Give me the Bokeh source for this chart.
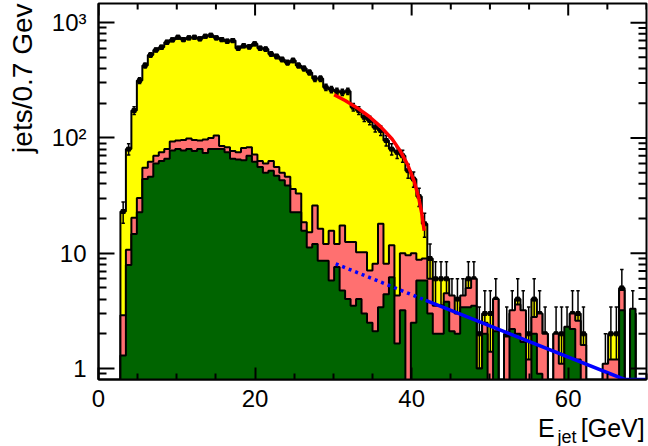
import numpy as np
from bokeh.plotting import figure
from bokeh.models import Range1d, FixedTicker, CustomJSTickFormatter
from bokeh.core.properties import value
from bokeh.layouts import row, column
from bokeh.embed import file_html
from bokeh.resources import INLINE

BIN_WIDTH = 0.7  # GeV per bin, 100 bins from 0 to 70 GeV

# all jets (data, drawn yellow with statistical error bars)
jets_all = [
    0, 0, 0, 0, 23, 80, 173, 315, 425, 525,
    580, 612, 676, 710, 747, 713, 738, 747, 725, 762,
    777, 738, 713, 690, 700, 600, 630, 617, 655, 600,
    590, 535, 510, 480, 450, 470, 425, 400, 370, 327,
    327, 275, 263, 254, 249, 254, 185, 173, 151, 142,
    124, 116, 95, 80, 75, 70, 52, 44, 31, 18,
    9, 6, 6, 6, 4, 4, 4, 6, 6, 2,
    3, 3, 4, 0, 2, 3, 4, 3, 2, 4,
    3, 2, 0, 2, 2, 2, 3, 3, 2, 0,
    0, 0, 1, 2, 2, 5, 0, 3, 0, 0,
]

# second jet sample (salmon)
jets_pink = [
    0, 0, 0, 0, 2.9, 10.7, 20.3, 30.2, 55, 62,
    70, 75, 80, 93, 95, 96, 99, 96, 95, 97,
    100, 105, 85, 83, 77, 75, 82, 83, 72, 63,
    60, 63, 56, 50, 46, 36, 33, 18.6, 15.2, 26,
    16.3, 12, 15.7, 12, 17.4, 12.5, 12.5, 10.2, 10.2, 7.1,
    8.1, 18, 8.1, 11.7, 4.3, 10, 9.6, 10, 8.8, 9,
    6, 3.5, 3.5, 4.5, 4.3, 3, 4.3, 5, 6, 1,
    2.5, 1.4, 4, 0, 1.9, 3.2, 3.6, 3.2, 1.2, 2.8,
    3, 2, 0, 2, 1.1, 2, 3, 2.6, 1.6, 0,
    0, 0, 1.1, 1.2, 1.2, 4.8, 0, 3, 0, 0,
]

# third jet sample (dark green)
jets_green = [
    0, 0, 0, 0, 1.3, 7.9, 14.7, 22.7, 44, 46,
    60, 63, 66, 78, 80, 78, 80, 77, 80, 74,
    80, 80, 80, 75, 66, 65, 64, 70, 62, 56,
    50, 52, 47, 43, 38.6, 22.7, 22.7, 15.7, 11.2, 12,
    8.6, 8.6, 5.8, 7.6, 4.75, 4, 3.5, 4, 3, 2.5,
    2.1, 3.4, 4.4, 6.2, 1.65, 3.2, 0, 2.5, 5.8, 5.8,
    3, 2, 2, 3.8, 2.1, 2, 3.4, 3.4, 3.5, 1,
    2, 0, 2.1, 0, 0, 2.2, 2, 1.7, 0, 2,
    0.9, 0, 0, 0, 0, 2.3, 2.2, 1.2, 0, 0,
    0, 0, 0, 0, 0, 3.2, 0, 3.3, 0, 0,
]

# fitted spectrum edge (red) sampled along the curve
fit_e = [30.1, 31.5, 33.0, 34.5, 36.0, 37.5, 38.5, 39.5, 40.3, 40.9, 41.3, 41.6]
fit_n = [237, 211, 183, 155, 126, 98, 78, 58.5, 42.5, 30.3, 22, 15.7]

# exponential background (blue): dotted part, then solid part
bkg_dot_e = [30.3, 41.8]
bkg_dot_n = [8.1, 3.9]
bkg_e = [41.8, 67.2, 70.0]
bkg_n = [3.9, 0.803, 0.803]

x_major = [0, 20, 40, 60]
x_minor = [5, 10, 15, 25, 30, 35, 45, 50, 55, 65, 70]
y_major = [1, 10, 100, 1000]
y_minor = [0.9] + [m * d for d in (1, 10, 100) for m in range(2, 10)]

X_LO, X_HI = 0.0, 70.0
Y_LO, Y_HI = 0.803, 1466
FLOOR = 0.5          # below the frame, used for empty bins
FONT = "Liberation Sans"

# page: a strip for the y title, then the plot above a strip for the x title
STRIP_W = 45
MAIN_W, MAIN_H = 603, 413
XLAB_H = 33
B_LEFT, B_RIGHT, B_TOP, B_BOTTOM = 53, 2, 3, 34
FRAME_W = MAIN_W - B_LEFT - B_RIGHT
FRAME_H = MAIN_H - B_TOP - B_BOTTOM

n_bins = len(jets_all)
lo = np.arange(n_bins) * BIN_WIDTH
hi = lo + BIN_WIDTH
mid = lo + BIN_WIDTH / 2
step_x = np.append(lo, hi[-1])

p = figure(width=MAIN_W, height=MAIN_H, x_range=Range1d(X_LO, X_HI),
           y_range=Range1d(Y_LO, Y_HI), y_axis_type="log",
           output_backend="svg", toolbar_location=None,
           min_border_left=B_LEFT, min_border_right=B_RIGHT,
           min_border_top=B_TOP, min_border_bottom=B_BOTTOM)
p.xgrid.visible = False
p.ygrid.visible = False
p.outline_line_color = "black"
p.outline_line_width = 2
p.background_fill_color = "white"
p.border_fill_color = "white"


def draw_hist(values, fill):
    v = np.asarray(values, dtype=float)
    top = np.where(v > 0, v, FLOOR)
    top = np.append(top, top[-1])
    p.varea_step(x=step_x, y1=np.full(len(top), FLOOR), y2=top, step_mode="after",
                 fill_color=fill)
    p.step(step_x, top, mode="after", line_color="black", line_width=2)


# yellow: all jets, with data points and errors
draw_hist(jets_all, "#ffff00")
n = np.asarray(jets_all, dtype=float)
has = n > 0
err = np.sqrt(n[has])
up = n[has] + err
down = np.maximum(n[has] - err, FLOOR)
cap = 0.22
for x0, x1, y0, y1 in ((mid[has], mid[has], down, up),
                       (mid[has] - cap, mid[has] + cap, up, up),
                       (mid[has] - cap, mid[has] + cap, down, down)):
    p.segment(x0=x0, y0=y0, x1=x1, y1=y1, line_color="black", line_width=1.5)
p.scatter(mid[has], n[has], marker="square", size=4, color="black")

draw_hist(jets_pink, "#ff7070")
draw_hist(jets_green, "#006400")

p.line(fit_e, fit_n, line_color="#ff0000", line_width=3.5)
p.line(bkg_dot_e, bkg_dot_n, line_color="#0000ff", line_width=3.5, line_dash="3 4")
p.line(bkg_e, bkg_n, line_color="#0000ff", line_width=3.5)

y_fmt = CustomJSTickFormatter(code="""
    const e = Math.round(Math.log10(tick));
    if (e <= 1) return String(Math.round(tick));
    const sup = {"0":"\u2070","1":"\u00b9","2":"\u00b2","3":"\u00b3","4":"\u2074",
                 "5":"\u2075","6":"\u2076","7":"\u2077","8":"\u2078","9":"\u2079"};
    return "10" + String(e).split("").map(c => sup[c]).join("");
""")


def style(ax, major, minor):
    ax.major_tick_in = major
    ax.major_tick_out = 0
    ax.minor_tick_in = minor
    ax.minor_tick_out = 0
    ax.major_tick_line_width = 2
    ax.minor_tick_line_width = 2
    ax.axis_line_width = 2
    ax.axis_line_color = "black"
    ax.major_tick_line_color = "black"
    ax.minor_tick_line_color = "black"
    ax.major_label_text_font = FONT
    ax.major_label_text_font_size = "24px"
    ax.major_label_text_color = "black"


X_MAJ_LEN, X_MIN_LEN = 12, 6
Y_MAJ_LEN, Y_MIN_LEN = 16, 8

p.xaxis.ticker = FixedTicker(ticks=x_major, minor_ticks=x_minor)
style(p.xaxis[0], X_MAJ_LEN, X_MIN_LEN)
p.xaxis.major_label_standoff = 10
p.yaxis.ticker = FixedTicker(ticks=y_major, minor_ticks=y_minor)
p.yaxis.formatter = y_fmt
style(p.yaxis[0], Y_MAJ_LEN, Y_MIN_LEN)
p.yaxis.major_label_standoff = 12

# mirrored ticks on the top and right frame edges
px_per_decade = FRAME_H / np.log10(Y_HI / Y_LO)
gev_per_px = (X_HI - X_LO) / FRAME_W
for ticks, length in ((x_major, X_MAJ_LEN), (x_minor, X_MIN_LEN)):
    t = np.asarray(ticks, dtype=float)
    p.segment(x0=t, x1=t, y0=np.full(len(t), Y_HI),
              y1=np.full(len(t), Y_HI * 10 ** (-length / px_per_decade)),
              line_color="black", line_width=2)
for ticks, length in ((y_major, Y_MAJ_LEN), (y_minor, Y_MIN_LEN)):
    t = np.asarray(ticks, dtype=float)
    p.segment(x0=np.full(len(t), X_HI), x1=np.full(len(t), X_HI - length * gev_per_px),
              y0=t, y1=t, line_color="black", line_width=2)


def text_strip(width, height):
    f = figure(width=width, height=height, x_range=Range1d(0, width),
               y_range=Range1d(0, height), x_axis_type=None, y_axis_type=None,
               output_backend="svg", toolbar_location=None, min_border=0)
    f.outline_line_color = None
    f.xgrid.visible = False
    f.ygrid.visible = False
    f.background_fill_color = "white"
    f.border_fill_color = "white"
    return f


TOTAL_H = MAIN_H + XLAB_H

# y title, reading upwards, ending at the top of the frame
ylab = text_strip(STRIP_W, TOTAL_H)
ylab.text(x=[22], y=[TOTAL_H - 3], text=["jets/0.7 Gev"], angle=np.pi / 2,
          text_align="right", text_baseline="middle",
          text_font=value(FONT), text_font_size="28px", text_color="black")

# x title with subscript, right-aligned to the frame edge
xlab = text_strip(MAIN_W, XLAB_H)
frame_right = B_LEFT + FRAME_W
for txt, right, mid_y, size in (("[GeV]", frame_right, 19, "25px"),
                                ("jet", frame_right - 75, 10, "18px"),
                                ("E", frame_right - 99, 19, "25px")):
    xlab.text(x=[right], y=[mid_y], text=[txt], text_align="right",
              text_baseline="middle", text_font=value(FONT),
              text_font_size=size, text_color="black")

layout = row(ylab, column(p, xlab, spacing=0), spacing=0)
open("out.html", "w").write(file_html(layout, INLINE))
